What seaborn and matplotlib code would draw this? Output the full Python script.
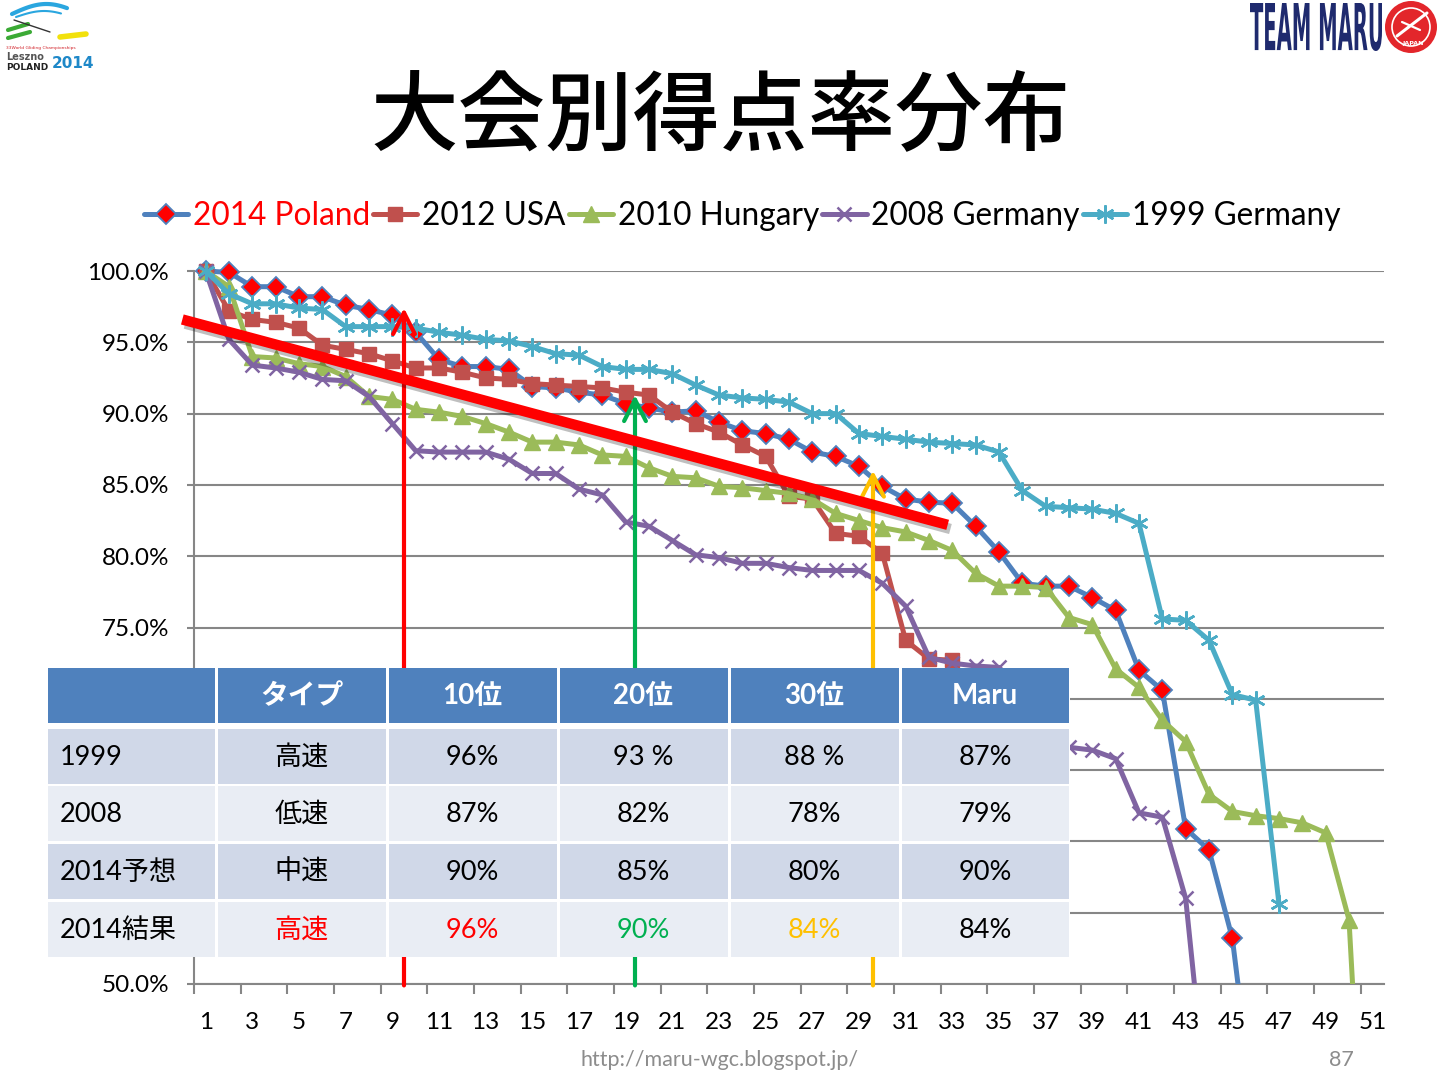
import numpy as np
import pandas as pd
import matplotlib
matplotlib.use("Agg")
import matplotlib.pyplot as plt
import seaborn as sns
from matplotlib.patches import Rectangle, Circle, PathPatch
from matplotlib.textpath import TextPath
from matplotlib.font_manager import FontProperties
from matplotlib.transforms import Affine2D
from matplotlib.lines import Line2D
import matplotlib.patheffects as pe

# ---------------- data ----------------
title = "大会別得点率分布"
series_names = ["2014 Poland", "2012 USA", "2010 Hungary", "2008 Germany", "1999 Germany"]

poland_2014 = [100, 99.9, 98.9, 98.9, 98.2, 98.2, 97.6, 97.3, 96.9, 95.7,
               93.8, 93.3, 93.3, 93.1, 91.9, 91.8, 91.5, 91.3, 90.7, 90.4,
               90.1, 90.2, 89.4, 88.8, 88.6, 88.2, 87.3, 87.0, 86.3, 84.9,
               84.0, 83.8, 83.7, 82.1, 80.3, 78.1, 77.9, 77.9, 77.1, 76.2,
               72.0, 70.6, 60.9, 59.4, 53.2, 40.0]
usa_2012 = [100, 97.2, 96.6, 96.4, 96.0, 94.8, 94.5, 94.2, 93.7, 93.2,
            93.2, 92.9, 92.5, 92.4, 92.1, 92.0, 91.9, 91.8, 91.5, 91.3,
            90.1, 89.3, 88.7, 87.8, 87.0, 84.2, 84.0, 81.6, 81.4, 80.2,
            74.1, 72.8, 72.7]
hungary_2010 = [100, 98.9, 94.0, 93.9, 93.5, 93.3, 92.6, 91.2, 91.0, 90.3,
                90.1, 89.8, 89.3, 88.7, 88.0, 88.0, 87.8, 87.1, 87.0, 86.2,
                85.6, 85.5, 84.9, 84.8, 84.6, 84.4, 84.0, 83.0, 82.5, 82.0,
                81.7, 81.1, 80.4, 78.8, 77.9, 77.9, 77.8, 75.7, 75.2, 72.1,
                70.8, 68.5, 67.0, 63.3, 62.1, 61.8, 61.6, 61.3, 60.6, 54.5,
                25.0]
germany_2008 = [100, 95.2, 93.4, 93.2, 92.9, 92.4, 92.3, 91.2, 89.3, 87.4,
                87.3, 87.3, 87.3, 86.8, 85.8, 85.8, 84.7, 84.3, 82.4, 82.1,
                81.1, 80.1, 79.9, 79.5, 79.5, 79.2, 79.0, 79.0, 79.0, 78.1,
                76.5, 72.9, 72.5, 72.3, 72.2, 70.5, 68.5, 66.6, 66.4, 65.8,
                62.0, 61.7, 56.0, 40.0]
germany_1999 = [100, 98.4, 97.7, 97.7, 97.4, 97.3, 96.1, 96.1, 96.1, 96.0,
                95.7, 95.5, 95.2, 95.1, 94.7, 94.2, 94.1, 93.3, 93.1, 93.1,
                92.8, 92.0, 91.3, 91.1, 91.0, 90.8, 90.0, 90.0, 88.6, 88.4,
                88.2, 88.0, 87.9, 87.8, 87.3, 84.6, 83.5, 83.4, 83.3, 83.0,
                82.3, 75.6, 75.5, 74.1, 70.3, 69.9, 55.6]

n_categories = 51
y_ticks = [50, 55, 60, 65, 70, 75, 80, 85, 90, 95, 100]
y_ticks_hidden_by_table = [55, 60, 65, 70]

# trend line and rank arrows (category, percent)
trend_x = [0.0, 32.8]
trend_y = [96.6, 82.2]
arrow_x = [9.5, 19.4, 29.6]
arrow_top = [97.4, 91.3, 86.0]
arrow_colors = ["#FF0000", "#00B050", "#FFC000"]

# table
table_header = ["", "タイプ", "10位", "20位", "30位", "Maru"]
table_rows = [
    ["1999", "高速", "96%", "93 %", "88 %", "87%"],
    ["2008", "低速", "87%", "82%", "78%", "79%"],
    ["2014予想", "中速", "90%", "85%", "80%", "90%"],
    ["2014結果", "高速", "96%", "90%", "84%", "84%"],
]
last_row_colors = ["black", "#FF0000", "#FF0000", "#00B050", "#FFC000", "black"]

footer_url = "http://maru-wgc.blogspot.jp/"
page_no = "87"

# ---------------- style ----------------
sns.set_theme(style="white")
FAM = ["Lato", "Noto Sans CJK JP", "DejaVu Sans"]
plt.rcParams["font.family"] = FAM

W, H = 1440, 1080
fig = plt.figure(figsize=(W / 100, H / 100), dpi=100)
fig.patch.set_facecolor("white")
ax = fig.add_axes([194 / W, 1 - 984 / H, 1190 / W, 713 / H])
ax.set_facecolor("white")

styles = [
    dict(color="#4F81BD", marker="D", markersize=10.5, markerfacecolor="#FF0000",
         markeredgecolor="#4F81BD", markeredgewidth=1.3),
    dict(color="#C0504D", marker="s", markersize=10, markerfacecolor="#C0504D",
         markeredgecolor="#C0504D", markeredgewidth=1),
    dict(color="#9BBB59", marker="^", markersize=11, markerfacecolor="#9BBB59",
         markeredgecolor="#9BBB59", markeredgewidth=1),
    dict(color="#8064A2", marker="x", markersize=10, markeredgecolor="#8064A2",
         markeredgewidth=1.8),
    dict(color="#4BACC6", marker=(6, 2, 0), markersize=13, markeredgecolor="#4BACC6",
         markeredgewidth=1.8),
]
all_series = [poland_2014, usa_2012, hungary_2010, germany_2008, germany_1999]

handles = []
for i, (name, vals, st) in enumerate(zip(series_names, all_series, styles)):
    df = pd.DataFrame({"rank": np.arange(1, len(vals) + 1), "score": vals})
    n_before = len(ax.lines)
    sns.lineplot(data=df, x="rank", y="score", ax=ax, lw=3.6, zorder=3 + i,
                 legend=False, errorbar=None, sort=False, **st)
    line = ax.lines[n_before]
    clip = Rectangle((0, 50), 53, 53, transform=ax.transData)
    line.set_clip_path(clip)
    handles.append(Line2D([], [], lw=3.6, **st))

ax.set_xlim(0.5, n_categories + 0.5)
ax.set_ylim(50, 100)
ax.set_xlabel("")
ax.set_ylabel("")

# grid / axes
ax.set_yticks(y_ticks)
ax.set_yticklabels(["" if v in y_ticks_hidden_by_table else f"{v:.1f}%" for v in y_ticks])
ax.yaxis.grid(True, color="#868686", lw=1.5)
ax.xaxis.grid(False)
ax.set_axisbelow(True)
for s in ["top", "right"]:
    ax.spines[s].set_visible(False)
for s in ["left", "bottom"]:
    ax.spines[s].set_color("#868686")
    ax.spines[s].set_linewidth(1.5)
ax.set_xticks(np.arange(1, n_categories + 1, 2))
ax.set_xticks(np.arange(0.5, n_categories + 0.5, 2), minor=True)
ax.tick_params(axis="x", which="major", length=0, pad=20, labelsize=17.5, colors="black")
ax.tick_params(axis="x", which="minor", length=7, width=1.5, color="#868686", direction="out",
               bottom=True)
ax.tick_params(axis="y", which="major", length=5, width=1.5, color="#868686", direction="out",
               pad=13, labelsize=17.5, left=True)
for lab in ax.get_xticklabels() + ax.get_yticklabels():
    lab.set_color("black")

# rank arrows
for xv, top, c in zip(arrow_x, arrow_top, arrow_colors):
    ax.annotate("", xy=(xv, top), xytext=(xv, 49.9),
                arrowprops=dict(arrowstyle="->,head_length=0.55,head_width=0.28",
                                color=c, lw=3, mutation_scale=28, shrinkA=0, shrinkB=0),
                annotation_clip=False, zorder=9)

# trend line
ax.plot(trend_x, trend_y, color="#FF0000", lw=7.5, solid_capstyle="butt", clip_on=False,
        zorder=10,
        path_effects=[pe.SimpleLineShadow(offset=(2, -3), alpha=0.25, shadow_color="black"),
                      pe.Normal()])

# legend
leg = fig.legend(handles, series_names, loc="center", bbox_to_anchor=(742 / W, 1 - 216 / H),
                 ncol=5, frameon=False, fontsize=22.8, handlelength=1.4, handletextpad=0.15,
                 columnspacing=0.1, borderaxespad=0, numpoints=1)
for t in leg.get_texts():
    t.set_color("black")
leg.get_texts()[0].set_color("#FF0000")

# title
fig.text(720 / W, 1 - 118 / H, title, ha="center", va="center", fontsize=63,
         family=["Noto Sans CJK JP"], weight="medium", color="black")

# ---------------- overlay (table, logos, footer) ----------------
ov = fig.add_axes([0, 0, 1, 1], zorder=5)
ov.set_xlim(0, W)
ov.set_ylim(H, 0)
ov.axis("off")
ov.patch.set_alpha(0)

col_edges = [46, 216, 387, 558, 729, 900, 1070]
hdr_top, hdr_bot = 668, 723
row_tops = [729, 786, 844, 902]
row_h = 55
gap = 1.5
row_fills = ["#D0D8E8", "#E9EDF4", "#D0D8E8", "#E9EDF4"]

# white table backing (the cell borders are white)
ov.add_patch(Rectangle((col_edges[0], hdr_top), col_edges[-1] - col_edges[0],
                       row_tops[-1] + row_h - hdr_top, facecolor="white", edgecolor="none"))

for j in range(6):
    x0, x1 = col_edges[j], col_edges[j + 1]
    ov.add_patch(Rectangle((x0 + gap, hdr_top), x1 - x0 - 2 * gap, hdr_bot - hdr_top,
                           facecolor="#4F81BD", edgecolor="none"))
    if table_header[j]:
        ov.text((x0 + x1) / 2, (hdr_top + hdr_bot) / 2 + 1, table_header[j], ha="center",
                va="center", fontsize=20, weight="bold", color="white", family=FAM)
for r, row in enumerate(table_rows):
    top = row_tops[r]
    for j in range(6):
        x0, x1 = col_edges[j], col_edges[j + 1]
        ov.add_patch(Rectangle((x0 + gap, top), x1 - x0 - 2 * gap, row_h,
                               facecolor=row_fills[r], edgecolor="none"))
        c = last_row_colors[j] if r == 3 else "black"
        if j == 0:
            ov.text(60, top + row_h / 2 + 1, row[j], ha="left", va="center", fontsize=19.5,
                    color=c, family=FAM)
        else:
            ov.text((x0 + x1) / 2, top + row_h / 2 + 1, row[j], ha="center", va="center",
                    fontsize=19.5, color=c, family=FAM)

# footer
ov.text(720, 1060, footer_url, ha="center", va="center", fontsize=15.5, color="#8C8C8C",
        family=FAM)
ov.text(1341, 1060, page_no, ha="center", va="center", fontsize=15.5, color="#8C8C8C",
        family=FAM)

# top-right logo: TEAM MARU
fp = FontProperties(family="DejaVu Sans", weight="bold")
tp = TextPath((0, 0), "TEAM MARU", size=100, prop=fp)
ext = tp.get_extents()
sx = (1382 - 1250) / ext.width
sy = (51 - 3) / ext.height
tr = Affine2D().translate(-ext.x0, -ext.y0).scale(sx, -sy).translate(1250, 51) + ov.transData
ov.add_patch(PathPatch(tp, transform=tr, facecolor="#1F2A6E", edgecolor="none"))
ov.add_patch(Circle((1411, 27), 26, facecolor="#E3262B", edgecolor="none"))
ov.add_patch(Circle((1411, 27), 19, facecolor="none", edgecolor="white", lw=1.2))
ov.plot([1397, 1427], [36, 13], color="white", lw=2.2, solid_capstyle="round")
ov.plot([1402, 1420], [22, 30], color="white", lw=1.6, solid_capstyle="round")
ov.text(1413, 44, "JAPAN", ha="center", va="center", fontsize=4.5, color="white",
        weight="bold", family=["DejaVu Sans"])

# top-left logo: Leszno 2014
t = np.linspace(0, 1, 30)
ov.plot(12 + 55 * t, 14 - 10 * np.sin(np.pi * t * 0.8), color="#2AA6DF", lw=3)
ov.plot(16 + 45 * t, 17 - 6 * np.sin(np.pi * t * 0.8), color="#2AA6DF", lw=1.5)
ov.plot(8 + 20 * t, 30 - 6 * t, color="#3BAA35", lw=3)
ov.plot(8 + 22 * t, 38 - 6 * t, color="#3BAA35", lw=3)
ov.plot([14, 50], [20, 32], color="#333333", lw=1)
ov.plot(60 + 26 * t, 37 - 3 * t, color="#F2E10C", lw=4)
ov.text(6, 48, "33World Gliding Championships", fontsize=3.2, color="#D2232A",
        va="center", ha="left", family=["DejaVu Sans"])
ov.text(6, 57, "Leszno", fontsize=7, color="#555555", va="center", ha="left", weight="bold",
        family=["DejaVu Sans"])
ov.text(6, 67, "POLAND", fontsize=6.5, color="#222222", va="center", ha="left", weight="bold",
        family=["DejaVu Sans"])
ov.text(52, 63, "2014", fontsize=11, color="#1E88C8", va="center", ha="left", weight="bold",
        family=["DejaVu Sans Condensed", "DejaVu Sans"])

fig.savefig("out.png", dpi=100, facecolor="white")
